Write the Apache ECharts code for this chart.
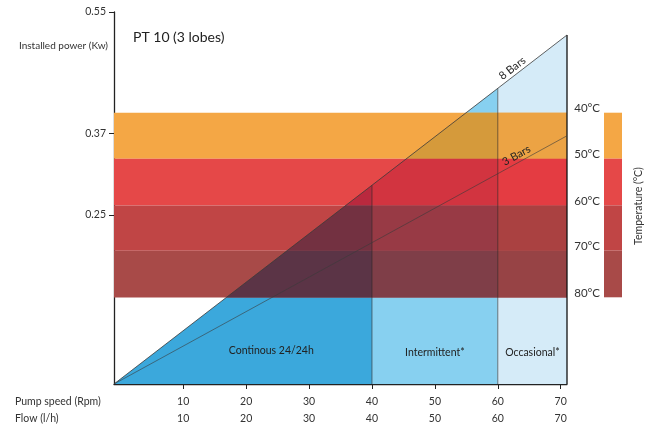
<!DOCTYPE html>
<html><head><meta charset="utf-8">
<script src="https://cdn.jsdelivr.net/npm/echarts@6/dist/echarts.min.js"></script>
<style>html,body{margin:0;padding:0;background:#fff}#c{width:659px;height:428px}</style>
</head><body><div id="c"></div>
<script>
const FONT = 'Lato, "Liberation Sans", sans-serif';
// axes
const xRange = [-1, 71];
const speedTicks = [10, 20, 30, 40, 50, 60, 70];
const flowTicks = [10, 20, 30, 40, 50, 60, 70];
const powerRange = [0, 0.55];
const powerTicks = [0.25, 0.37, 0.55];
// temperature bands (edges in kW, top to bottom)
const tempLabels = ['40°C', '50°C', '60°C', '70°C', '80°C'];
const bandEdges = [0.401, 0.333, 0.264, 0.197, 0.128];
const bandColors = ['#f4a745', '#e54848', '#c04545', '#a84a48'];
// duty regions
const regionNames = ['Continous 24/24h', 'Intermittent*', 'Occasional*'];
const regionBounds = [-1, 40, 60, 71];
const regionColors = ['#3ba8dc', '#87d0f0', '#d5ebf8'];
const regionLabelX = [24, 50, 65.5];
const regionLabelY = [0.049, 0.046, 0.046];
// overlap colours [region][band]
const overlapColors = [
  ['#c98a3a', '#b9293e', '#733141', '#5b3446'],
  ['#d59a3b', '#d23440', '#983a45', '#7f3e48'],
  ['#eca344', '#e43c42', '#aa4141', '#974345']
];
// pressure lines
const bars8 = [[-1, 0], [71, 0.516]];
const bars3 = [[-1, 0], [71, 0.367]];
const lineNames = ['8 Bars', '3 Bars'];
const lineLabelX = [63, 63.5];
// text labels
const xAxisNames = ['Pump speed (Rpm)', 'Flow (l/h)'];
const yAxisName = 'Installed power (Kw)';
const legendName = 'Temperature (°C)';

function lineAt(line, x) {
  const [a, b] = line;
  return a[1] + (b[1] - a[1]) * (x - a[0]) / (b[0] - a[0]);
}
function regionPoly(a, b) {
  return [[a, 0], [b, 0], [b, lineAt(bars8, b)], [a, lineAt(bars8, a)]];
}
function clipY(poly, yv, keepAbove) {
  const out = [];
  for (let i = 0; i < poly.length; i++) {
    const a = poly[i], b = poly[(i + 1) % poly.length];
    const ina = keepAbove ? a[1] >= yv : a[1] <= yv;
    const inb = keepAbove ? b[1] >= yv : b[1] <= yv;
    if (ina) out.push(a);
    if (ina !== inb) {
      const t = (yv - a[1]) / (b[1] - a[1]);
      out.push([a[0] + t * (b[0] - a[0]), yv]);
    }
  }
  return out;
}

const chart = echarts.init(document.getElementById('c'), null, {renderer: 'canvas'});
const txt = {fontFamily: FONT, color: '#333'};
const gtxt = (text, x, y, extra) => ({type: 'text', x: x, y: y, silent: true,
  style: Object.assign({text: text, fontFamily: FONT, fontSize: 10.5, fill: '#333', align: 'left', verticalAlign: 'middle'}, extra || {})});

const bandData = bandColors.map((c, i) => [bandEdges[i + 1], bandEdges[i], i]);
const overlapData = [];
regionNames.forEach((n, r) => bandColors.forEach((c, k) => overlapData.push([r, k])));

const option = {
  animation: false,
  backgroundColor: '#fff',
  title: {text: 'PT 10 (3 lobes)', left: 128, top: 25,
    textStyle: {fontFamily: FONT, fontSize: 14, fontWeight: 'normal', color: '#222'}},
  graphic: [
    gtxt(xAxisNames[0], 15, 402),
    gtxt(xAxisNames[1], 15, 419),
    gtxt(yAxisName, 108, 46, {align: 'right', fontSize: 10}),
    Object.assign(gtxt(legendName, 639, 206, {align: 'center', fontSize: 10.5}), {rotation: Math.PI / 2})
  ],
  grid: [
    {left: 114, top: 12, width: 453, height: 372, containLabel: false, outerBoundsMode: 'none'},
    {left: 604, top: 112.7, width: 18, height: 184.6, containLabel: false, outerBoundsMode: 'none'}
  ],
  xAxis: [
    {type: 'value', gridIndex: 0, min: xRange[0], max: xRange[1], position: 'bottom',
      axisLine: {show: true, onZero: false, lineStyle: {color: '#222', width: 1.3}},
      axisTick: {show: true, customValues: speedTicks, length: 5, lineStyle: {color: '#222'}},
      axisLabel: Object.assign({customValues: speedTicks, fontSize: 10.5, margin: 12.5}, txt),
      splitLine: {show: false}},
    {type: 'value', gridIndex: 0, min: xRange[0], max: xRange[1], position: 'bottom', offset: 17,
      axisLine: {show: false}, axisTick: {show: false},
      axisLabel: Object.assign({customValues: flowTicks, fontSize: 10.5, margin: 12.5}, txt),
      splitLine: {show: false}},
    {type: 'value', gridIndex: 1, min: 0, max: 1, show: false}
  ],
  yAxis: [
    {type: 'value', gridIndex: 0, min: powerRange[0], max: powerRange[1],
      axisLine: {show: true, onZero: false, lineStyle: {color: '#222', width: 1.3}},
      axisTick: {show: true, customValues: powerTicks, length: 5, lineStyle: {color: '#222'}},
      axisLabel: Object.assign({customValues: powerTicks, fontSize: 10.5, margin: 8}, txt),
      splitLine: {show: false}},
    {type: 'value', gridIndex: 1, min: bandEdges[bandEdges.length - 1], max: bandEdges[0], position: 'left',
      axisLine: {show: false}, axisTick: {show: false}, splitLine: {show: false},
      axisLabel: Object.assign({customValues: bandEdges, fontSize: 11.5, margin: 4,
        verticalAlign: 'bottom', lineHeight: 8,
        formatter: v => tempLabels[bandEdges.indexOf(v)]}, txt)}
  ],
  series: [
    // duty regions (under 8 Bars line)
    {type: 'custom', xAxisIndex: 0, yAxisIndex: 0, silent: true, z: 1,
      data: regionNames.map((n, i) => [regionBounds[i], regionBounds[i + 1], i]),
      renderItem: (p, api) => {
        const i = api.value(2);
        const pts = regionPoly(api.value(0), api.value(1)).map(q => api.coord(q));
        return {type: 'polygon', shape: {points: pts}, style: {fill: regionColors[i]}};
      }},
    // temperature bands
    {type: 'custom', xAxisIndex: 0, yAxisIndex: 0, silent: true, z: 2,
      data: bandData,
      renderItem: (p, api) => {
        const a = api.coord([xRange[0], api.value(1)]);
        const b = api.coord([xRange[1], api.value(0)]);
        return {type: 'rect', shape: {x: a[0], y: a[1], width: b[0] - a[0], height: b[1] - a[1]},
          style: {fill: bandColors[api.value(2)]}};
      }},
    // overlap of bands and regions
    {type: 'custom', xAxisIndex: 0, yAxisIndex: 0, silent: true, z: 3,
      data: overlapData,
      renderItem: (p, api) => {
        const r = api.value(0), k = api.value(1);
        let poly = regionPoly(regionBounds[r], regionBounds[r + 1]);
        poly = clipY(poly, bandEdges[k + 1], true);
        poly = clipY(poly, bandEdges[k], false);
        if (poly.length < 3) return null;
        return {type: 'polygon', shape: {points: poly.map(q => api.coord(q))},
          style: {fill: overlapColors[r][k]}};
      }},
    // region borders
    {type: 'custom', xAxisIndex: 0, yAxisIndex: 0, silent: true, z: 4,
      data: regionBounds.slice(1).map((x, i) => [x, i]),
      renderItem: (p, api) => {
        const x = api.value(0);
        const last = api.value(1) === regionBounds.length - 2;
        const a = api.coord([x, 0]), b = api.coord([x, lineAt(bars8, x)]);
        return {type: 'line', shape: {x1: a[0], y1: a[1], x2: b[0], y2: b[1]},
          style: {stroke: last ? '#111' : 'rgba(40,40,40,0.6)', lineWidth: last ? 1.3 : 1}};
      }},
    {type: 'line', xAxisIndex: 0, yAxisIndex: 0, data: bars8, showSymbol: false, symbol: 'none', silent: true, z: 5,
      lineStyle: {color: '#3a3a3a', width: 0.8}},
    {type: 'line', xAxisIndex: 0, yAxisIndex: 0, data: bars3, showSymbol: false, symbol: 'none', silent: true, z: 5,
      lineStyle: {color: '#3a3a3a', width: 0.6}},
    // line labels
    {type: 'custom', xAxisIndex: 0, yAxisIndex: 0, silent: true, z: 6,
      data: lineNames.map((n, i) => [lineLabelX[i], i]),
      renderItem: (p, api) => {
        const i = api.value(1);
        const line = i === 0 ? bars8 : bars3;
        const x = api.value(0);
        const p0 = api.coord(line[0]), p1 = api.coord(line[1]);
        const ang = Math.atan2(-(p1[1] - p0[1]), p1[0] - p0[0]);
        const q = api.coord([x, lineAt(line, x)]);
        const off = 1.5;
        return {type: 'text', x: q[0] - Math.sin(ang) * off, y: q[1] - Math.cos(ang) * off, rotation: ang,
          style: {text: lineNames[i], fontFamily: FONT, fontSize: 11, fill: '#222', align: 'center', verticalAlign: 'bottom'}};
      }},
    // region labels
    {type: 'custom', xAxisIndex: 0, yAxisIndex: 0, silent: true, z: 6,
      data: regionNames.map((n, i) => [regionLabelX[i], regionLabelY[i], i]),
      renderItem: (p, api) => {
        const q = api.coord([api.value(0), api.value(1)]);
        return {type: 'text', x: q[0], y: q[1],
          style: {text: regionNames[api.value(2)], fontFamily: FONT, fontSize: 10.5, fill: '#222', align: 'center', verticalAlign: 'middle'}};
      }},
    // temperature legend bar
    {type: 'custom', xAxisIndex: 2, yAxisIndex: 1, silent: true, z: 2,
      data: bandData,
      renderItem: (p, api) => {
        const a = api.coord([0, api.value(1)]);
        const b = api.coord([1, api.value(0)]);
        return {type: 'rect', shape: {x: a[0], y: a[1], width: b[0] - a[0], height: b[1] - a[1]},
          style: {fill: bandColors[api.value(2)]}};
      }}
  ]
};
chart.setOption(option);
</script>
</body></html>
